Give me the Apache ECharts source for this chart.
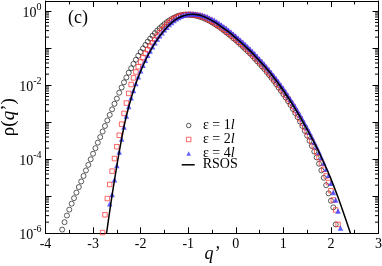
<!DOCTYPE html>
<html><head><meta charset="utf-8">
<script src="https://cdn.jsdelivr.net/npm/echarts@6/dist/echarts.min.js"></script>
<style>html,body{margin:0;padding:0;background:#fff}#c{width:382px;height:266px}</style>
</head><body><div id="c"></div>
<script>
// q' grid shared by the three data sets (null = no point)
const qGrid = [
 -3.65,-3.6,-3.55,-3.5,-3.45,-3.4,-3.35,-3.3,-3.25,-3.2,
 -3.15,-3.1,-3.05,-3,-2.95,-2.9,-2.85,-2.8,-2.75,-2.7,
 -2.65,-2.6,-2.55,-2.5,-2.45,-2.4,-2.35,-2.3,-2.25,-2.2,
 -2.15,-2.1,-2.05,-2,-1.95,-1.9,-1.85,-1.8,-1.75,-1.7,
 -1.65,-1.6,-1.55,-1.5,-1.45,-1.4,-1.35,-1.3,-1.25,-1.2,
 -1.15,-1.1,-1.05,-1,-0.95,-0.9,-0.85,-0.8,-0.75,-0.7,
 -0.65,-0.6,-0.55,-0.5,-0.45,-0.4,-0.35,-0.3,-0.25,-0.2,
 -0.15,-0.1,-0.05,0,0.05,0.1,0.15,0.2,0.25,0.3,
 0.35,0.4,0.45,0.5,0.55,0.6,0.65,0.7,0.75,0.8,
 0.85,0.9,0.95,1,1.05,1.1,1.15,1.2,1.25,1.3,
 1.35,1.4,1.45,1.5,1.55,1.6,1.65,1.7,1.75,1.8,
 1.85,1.9,1.95,2,2.05,2.1,2.15,2.2];

// log10 rho(q') for eps = 1l (circles)
const eps1Log10 = [
 -5.9,-5.7,-5.52,-5.36,-5.2,-5.05,-4.9,-4.75,-4.6,-4.45,
 -4.3,-4.15,-4.0,-3.85,-3.7,-3.55,-3.4,-3.25,-3.1,-2.95,
 -2.8,-2.65,-2.5,-2.36,-2.2,-2.06,-1.92,-1.79,-1.66,-1.54,
 -1.42,-1.31,-1.2,-1.1,-1.0,-0.91,-0.82,-0.74,-0.66,-0.59,
 -0.52,-0.46,-0.4,-0.345,-0.295,-0.25,-0.21,-0.175,-0.145,-0.12,
 -0.105,-0.095,-0.09,-0.095,-0.1,-0.105,-0.115,-0.13,-0.15,-0.17,
 -0.2,-0.23,-0.26,-0.3,-0.34,-0.38,-0.42,-0.47,-0.52,-0.57,
 -0.62,-0.67,-0.73,-0.78,-0.84,-0.9,-0.96,-1.02,-1.08,-1.14,
 -1.21,-1.28,-1.35,-1.42,-1.49,-1.56,-1.64,-1.72,-1.8,-1.88,
 -1.97,-2.06,-2.15,-2.24,-2.33,-2.43,-2.53,-2.64,-2.75,-2.86,
 -2.98,-3.1,-3.23,-3.36,-3.5,-3.64,-3.79,-3.95,-4.12,-4.3,
 -4.5,-4.7,-4.92,-5.12,-5.3,-5.76,null,null];

// log10 rho(q') for eps = 2l (squares)
const eps2Log10 = [
 null,null,null,null,null,null,null,null,null,null,
 null,null,null,null,null,null,null,-5.98,-5.5,-5.06,
 -4.68,-4.32,-3.98,-3.66,-3.35,-3.05,-2.76,-2.48,-2.22,-1.98,
 -1.8,-1.64,-1.5,-1.37,-1.25,-1.14,-1.04,-0.94,-0.85,-0.76,
 -0.67,-0.58,-0.5,-0.43,-0.36,-0.3,-0.25,-0.205,-0.17,-0.14,
 -0.115,-0.1,-0.09,-0.085,-0.085,-0.09,-0.1,-0.11,-0.125,-0.145,
 -0.17,-0.2,-0.235,-0.27,-0.31,-0.35,-0.395,-0.44,-0.485,-0.535,
 -0.585,-0.635,-0.69,-0.745,-0.8,-0.855,-0.915,-0.975,-1.035,-1.1,
 -1.165,-1.23,-1.3,-1.37,-1.44,-1.51,-1.59,-1.67,-1.75,-1.83,
 -1.91,-2.0,-2.09,-2.18,-2.27,-2.37,-2.47,-2.57,-2.68,-2.79,
 -2.9,-3.02,-3.14,-3.26,-3.39,-3.52,-3.66,-3.8,-3.95,-4.1,
 -4.27,-4.45,-4.63,-4.85,-5.1,-5.37,-5.76,null];

// log10 rho(q') for eps = 4l (triangles)
const eps4Log10 = [
 null,null,null,null,null,null,null,null,null,null,
 null,null,null,null,null,null,null,null,null,null,
 -5.2,-4.95,-4.55,-4.17,-3.8,-3.45,-3.13,-2.83,-2.57,-2.34,
 -2.14,-1.95,-1.77,-1.61,-1.46,-1.32,-1.19,-1.07,-0.96,-0.85,
 -0.75,-0.66,-0.58,-0.5,-0.43,-0.36,-0.3,-0.25,-0.2,-0.165,
 -0.135,-0.11,-0.09,-0.075,-0.068,-0.065,-0.07,-0.078,-0.09,-0.105,
 -0.125,-0.15,-0.18,-0.21,-0.245,-0.285,-0.325,-0.37,-0.415,-0.46,
 -0.51,-0.56,-0.615,-0.67,-0.725,-0.78,-0.84,-0.9,-0.96,-1.02,
 -1.085,-1.15,-1.22,-1.29,-1.36,-1.43,-1.505,-1.58,-1.66,-1.74,
 -1.82,-1.91,-2.0,-2.09,-2.18,-2.28,-2.38,-2.48,-2.58,-2.69,
 -2.8,-2.91,-3.03,-3.15,-3.27,-3.4,-3.53,-3.66,-3.8,-3.95,
 -4.1,-4.26,-4.43,-4.65,-4.9,-5.1,-5.4,-5.86];

// RSOS curve
const rsosQ = [-2.75,-2.7,-2.65,-2.6,-2.55,-2.5,-2.45,-2.4,-2.35,-2.3,
 -2.2,-2.1,-2.0,-1.9,-1.8,-1.7,-1.6,-1.5,-1.4,-1.3,-1.2,-1.1,-1.0,-0.9,
 -0.8,-0.7,-0.6,-0.5,-0.4,-0.3,-0.2,-0.1,0,
 0.1,0.2,0.3,0.4,0.5,0.6,0.7,0.8,0.9,1.0,1.1,1.2,1.3,1.4,1.5,1.6,1.7,1.8,1.9,2.0,2.1,2.2,2.3,2.4,2.45];
const rsosLog10 = [-6.3,-5.85,-5.4,-4.97,-4.56,-4.17,-3.8,-3.45,-3.12,-2.83,
 -2.35,-1.95,-1.62,-1.33,-1.08,-0.86,-0.67,-0.51,-0.37,-0.26,-0.175,-0.12,-0.09,-0.08,
 -0.095,-0.13,-0.185,-0.25,-0.33,-0.42,-0.51,-0.61,-0.72,
 -0.83,-0.95,-1.07,-1.2,-1.34,-1.48,-1.63,-1.79,-1.96,-2.14,-2.33,-2.53,-2.74,-2.96,-3.19,-3.43,-3.68,-3.95,-4.23,-4.53,-4.86,-5.21,-5.58,-5.96,-6.16];

const seriesNames = ['ε = 1l', 'ε = 2l', 'ε = 4l', 'RSOS'];
const panelLabel = '(c)';
const xName = 'q’';
const xRange = [-4, 3];
const yDecadeRange = [-6, 0.278];

const SERIF = "'Liberation Serif','Times New Roman',serif";

function pairs(xs, ys) {
  const out = [];
  xs.forEach((x, i) => { if (ys[i] !== null && ys[i] !== undefined) out.push([x, ys[i]]); });
  return out;
}

// log-scale minor tick positions (2..9 x 10^n)
const minorTicks = [];
for (let n = yDecadeRange[0]; n <= 0; n++) {
  for (let k = 2; k <= 9; k++) {
    const v = n + Math.log10(k);
    if (v < yDecadeRange[1]) minorTicks.push([xRange[0], v]);
  }
}

const chart = echarts.init(document.getElementById('c'), null, {renderer: 'canvas'});

const yLabelFmt = v => {
  if (Math.abs(v - Math.round(v)) > 1e-9) return '';
  const n = Math.round(v);
  if (n % 2 !== 0) return '';
  return '{b|10}{s|' + n + '}';
};

const axisCommonX = {
  type: 'value', min: xRange[0], max: xRange[1], interval: 1,
  axisLine: {show: true, onZero: false, lineStyle: {color: '#000', width: 1}},
  axisTick: {show: true, inside: true, length: 6, lineStyle: {color: '#000'}},
  minorTick: {show: true, splitNumber: 2, length: 3.5, lineStyle: {color: '#000'}},
  splitLine: {show: false}
};
const axisCommonY = {
  type: 'value', min: yDecadeRange[0], max: yDecadeRange[1], interval: 1,
  axisLine: {show: true, onZero: false, lineStyle: {color: '#000', width: 1}},
  axisTick: {show: true, inside: true, length: 6, lineStyle: {color: '#000'}},
  splitLine: {show: false}
};

const nameRich = size => ({
  n: {fontFamily: SERIF, fontSize: size, color: '#000', lineHeight: size + 2},
  i: {fontFamily: SERIF, fontSize: size, color: '#000', fontStyle: 'italic', lineHeight: size + 2}
});

chart.setOption({
  animation: false,
  backgroundColor: '#fff',
  title: {text: panelLabel, left: 68, top: 9, padding: 0, textStyle: {fontFamily: SERIF, fontSize: 18, fontWeight: 'normal', color: '#000'}},
  grid: {left: 45.5, right: 3.5, top: 1, bottom: 32.7, containLabel: false, outerBoundsMode: 'none'},
  xAxis: [
    Object.assign({}, axisCommonX, {
      position: 'bottom',
      name: xName, nameLocation: 'middle', nameGap: 12, nameMoveOverlap: false,
      nameTextStyle: {fontFamily: SERIF, fontSize: 18, fontStyle: 'italic', color: '#000'},
      axisLabel: {show: true, margin: 4, fontFamily: SERIF, fontSize: 14, color: '#000'}
    }),
    Object.assign({}, axisCommonX, {position: 'top', axisLabel: {show: false}})
  ],
  yAxis: [
    Object.assign({}, axisCommonY, {
      position: 'left',
      name: '{n|ρ(}{i|q}{n|’)}', nameLocation: 'middle', nameGap: 26, nameRotate: 90, nameMoveOverlap: false,
      nameTextStyle: {fontFamily: SERIF, fontSize: 19, color: '#000', rich: nameRich(19)},
      axisLabel: {show: true, margin: 4, formatter: yLabelFmt, color: '#000',
        rich: {
          b: {fontFamily: SERIF, fontSize: 14, color: '#000', lineHeight: 18, padding: [4, 0, 0, 0]},
          s: {fontFamily: SERIF, fontSize: 10, color: '#000', verticalAlign: 'top', lineHeight: 10}
        }}
    }),
    Object.assign({}, axisCommonY, {position: 'right', axisLabel: {show: false}})
  ],
  legend: [
    {
      data: [
        {name: seriesNames[0], itemStyle: {color: 'rgba(0,0,0,0)', borderColor: '#000', borderWidth: 0.8}},
        {name: seriesNames[1], itemStyle: {color: 'rgba(0,0,0,0)', borderColor: '#ff2a2a', borderWidth: 0.9}},
        {name: seriesNames[2], itemStyle: {color: '#3838ff', borderWidth: 0}}
      ],
      orient: 'vertical', left: 186, top: 118.5,
      itemWidth: 4.5, itemHeight: 4.5, itemGap: 0, padding: 0, selectedMode: false,
      formatter: name => name.replace(/l$/, '{i|l}'),
      textStyle: {fontFamily: SERIF, fontSize: 14, color: '#000', lineHeight: 13, padding: [0, 0, 0, 7],
        rich: {i: {fontFamily: SERIF, fontSize: 14, fontStyle: 'italic', lineHeight: 13}}}
    },
    {
      data: [{name: seriesNames[3], icon: 'rect', itemStyle: {color: '#000', borderWidth: 0}}],
      orient: 'vertical', left: 181.7, top: 157.8,
      itemWidth: 13, itemHeight: 1.5, itemGap: 0, padding: 0, selectedMode: false,
      textStyle: {fontFamily: SERIF, fontSize: 14, color: '#000', lineHeight: 13, padding: [0, 0, 0, 3]}
    }
  ],
  series: [
    {
      type: 'custom', name: 'minorTicks', silent: true, z: 1,
      data: minorTicks,
      renderItem: (params, api) => {
        const v = api.value(1);
        const l = api.coord([xRange[0], v]);
        const r = api.coord([xRange[1], v]);
        return {type: 'group', children: [
          {type: 'line', shape: {x1: l[0], y1: l[1], x2: l[0] + 3.5, y2: l[1]}, style: {stroke: '#000', lineWidth: 1}},
          {type: 'line', shape: {x1: r[0], y1: r[1], x2: r[0] - 3.5, y2: r[1]}, style: {stroke: '#000', lineWidth: 1}}
        ]};
      }
    },
    {
      type: 'scatter', name: seriesNames[0], data: pairs(qGrid, eps1Log10), z: 2,
      symbol: 'circle', symbolSize: 5,
      itemStyle: {color: 'rgba(0,0,0,0)', borderColor: '#000', borderWidth: 0.8}
    },
    {
      type: 'scatter', name: seriesNames[1], data: pairs(qGrid, eps2Log10), z: 3,
      symbol: 'rect', symbolSize: 4.5,
      itemStyle: {color: 'rgba(0,0,0,0)', borderColor: '#ff2a2a', borderWidth: 0.9}
    },
    {
      type: 'scatter', name: seriesNames[2], data: pairs(qGrid, eps4Log10), z: 4,
      symbol: 'triangle', symbolSize: 5.5,
      itemStyle: {color: '#3838ff'}
    },
    {
      type: 'line', name: seriesNames[3], data: pairs(rsosQ, rsosLog10), z: 5,
      smooth: 0.3, symbol: 'none', showSymbol: false,
      itemStyle: {color: '#000'},
      lineStyle: {color: '#000', width: 1.5}
    }
  ]
});
</script>
</body></html>
